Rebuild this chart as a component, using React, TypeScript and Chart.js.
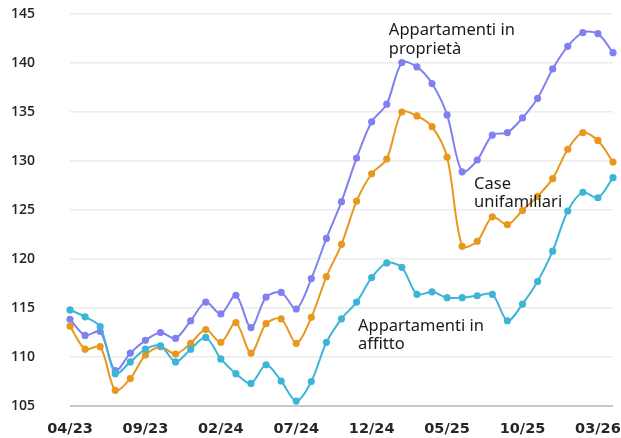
import React, { useEffect, useRef } from "react";
import { Chart, registerables } from "chart.js";

Chart.register(...registerables);

const months = [
  "04/23","05/23","06/23","07/23","08/23","09/23","10/23","11/23","12/23",
  "01/24","02/24","03/24","04/24","05/24","06/24","07/24","08/24","09/24","10/24","11/24","12/24",
  "01/25","02/25","03/25","04/25","05/25","06/25","07/25","08/25","09/25","10/25","11/25","12/25",
  "01/26","02/26","03/26","04/26",
];

const proprieta = [
  113.85, 112.2, 112.6, 108.6, 110.4, 111.7, 112.5, 111.9, 113.7, 115.6, 114.4, 116.3,
  113.0, 116.1, 116.6, 114.9, 118.0, 122.1, 125.85, 130.3, 134.0, 135.8, 140.05, 139.6,
  137.9, 134.7, 128.9, 130.1, 132.65, 132.9, 134.4, 136.4, 139.4, 141.7, 143.1, 143.0, 141.05,
];

const unifamiliari = [
  113.15, 110.8, 111.05, 106.6, 107.8, 110.2, 111.05, 110.3, 111.4, 112.8, 111.5, 113.5,
  110.4, 113.4, 113.9, 111.4, 114.05, 118.2, 121.5, 125.9, 128.7, 130.2, 135.0, 134.6,
  133.5, 130.4, 121.3, 121.8, 124.3, 123.5, 124.95, 126.4, 128.2, 131.2, 132.9, 132.1, 129.9,
];

const affitto = [
  114.8, 114.1, 113.1, 108.3, 109.5, 110.8, 111.15, 109.5, 110.8, 112.0, 109.8, 108.3,
  107.3, 109.2, 107.55, 105.5, 107.5, 111.5, 113.9, 115.6, 118.1, 119.6, 119.15, 116.4,
  116.65, 116.05, 116.05, 116.25, 116.4, 113.7, 115.4, 117.7, 120.8, 124.9, 126.8, 126.25, 128.3,
];

const yTicks = [105, 110, 115, 120, 125, 130, 135, 140, 145];

const seriesLabels = [
  { lines: ["Appartamenti in", "proprietà"], x: 21.14, y: 142.85 },
  { lines: ["Case", "unifamiliari"], x: 26.79, y: 127.15 },
  { lines: ["Appartamenti in", "affitto"], x: 19.09, y: 112.7 },
];

const labelPlugin = {
  id: "seriesLabels",
  afterDatasetsDraw(chart: any) {
    const { ctx, scales } = chart;
    ctx.save();
    ctx.font = "400 16.5px 'Noto Sans'";
    ctx.fillStyle = "#1a1a1a";
    ctx.textAlign = "left";
    ctx.textBaseline = "alphabetic";
    for (const l of seriesLabels) {
      const px = scales.x.getPixelForValue(l.x);
      const py = scales.y.getPixelForValue(l.y);
      l.lines.forEach((t, i) => ctx.fillText(t, px, py + i * 18.5));
    }
    ctx.restore();
  },
};

export default function App() {
  const ref = useRef<HTMLCanvasElement>(null);
  useEffect(() => {
    if (!ref.current) return;
    const mk = (label: string, data: number[], color: string) => ({
      label,
      data,
      borderColor: color,
      backgroundColor: color,
      borderWidth: 2,
      pointRadius: 2.6,
      pointHoverRadius: 3,
      tension: 0.3,
    });
    const chart = new Chart(ref.current, {
      type: "line",
      data: {
        labels: months,
        datasets: [
          mk("Appartamenti in affitto", affitto, "#3db4d8"),
          mk("Case unifamiliari", unifamiliari, "#e8981f"),
          mk("Appartamenti in proprietà", proprieta, "#8080f0"),
        ],
      },
      options: {
        animation: false,
        responsive: false,
        maintainAspectRatio: false,
        layout: { padding: { top: 14, right: 8, left: 0, bottom: 0 } },
        plugins: { legend: { display: false }, tooltip: { enabled: false } },
        scales: {
          x: {
            offset: false,
            grid: { display: false, drawTicks: false },
            border: { display: false },
            afterFit: (s: any) => {
              s.height = 32;
              s.paddingLeft = 0;
              s.paddingRight = 0;
            },
            ticks: {
              autoSkip: false,
              maxRotation: 0,
              padding: 15,
              color: "#262626",
              font: { family: "'DejaVu Sans'", size: 14.5, weight: "bold" },
              callback: (v: any, i: number) => (i % 5 === 0 ? months[i] : ""),
            },
          },
          y: {
            min: 105,
            max: 145,
            afterBuildTicks: (axis: any) => {
              axis.ticks = yTicks.map((v) => ({ value: v }));
            },
            afterFit: (s: any) => {
              s.width = 70;
              s.paddingTop = 0;
              s.paddingBottom = 0;
            },
            grid: {
              drawTicks: false,
              color: (c: any) => (c.tick && c.tick.value === 105 ? "#c8c8c8" : "#ececec"),
              lineWidth: (c: any) => (c.tick && c.tick.value === 105 ? 2 : 1.5),
            },
            border: { display: false },
            ticks: {
              padding: 35,
              color: "#262626",
              font: { family: "'Open Sans'", size: 14, weight: 600 },
            },
          },
        },
      },
      plugins: [labelPlugin],
    });
    return () => chart.destroy();
  }, []);
  return (
    <div style={{ position: "absolute", left: 0, top: 0, width: 621, height: 438, background: "#fff" }}>
      <canvas ref={ref} width={621} height={438} style={{ width: 621, height: 438 }} />
    </div>
  );
}
